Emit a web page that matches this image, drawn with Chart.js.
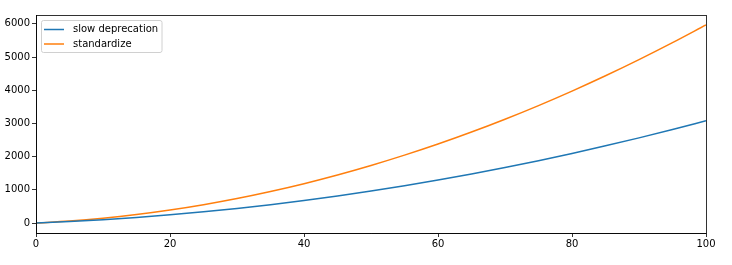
<!DOCTYPE html>
<html>
<head>
<meta charset="utf-8">
<script src="https://cdn.jsdelivr.net/npm/chart.js@4"></script>
<style>
html,body{margin:0;padding:0;background:#fff;}
#wrap{width:732px;height:265px;}
</style>
</head>
<body>
<div id="wrap"><canvas id="c" width="732" height="265"></canvas></div>
<script>
const xValues = [0,5,10,15,20,25,30,35,40,45,50,55,60,65,70,75,80,85,90,95,100];
const slowDeprecation = [0,45,101,169,247,338,440,554,680,817,965,1124,1295,1478,1673,1879,2097,2325,2565,2817,3081];
const standardize = [0,61,147,258,394,555,740,952,1187,1448,1734,2045,2380,2741,3127,3538,3974,4435,4921,5432,5967];
const seriesLabels = ['slow deprecation','standardize'];
const xTicks = [0,20,40,60,80,100];
const yTicks = [0,1000,2000,3000,4000,5000,6000];

const FONT = {family:'"DejaVu Sans", sans-serif', size:10};

const frame = {
  id:'frame',
  afterDraw(chart){
    const {ctx, chartArea:a} = chart;
    ctx.save();
    ctx.strokeStyle = '#000';
    ctx.lineWidth = 0.8;
    ctx.strokeRect(Math.round(a.left)+0.5, Math.round(a.top)+0.5, Math.round(a.right-a.left), Math.round(a.bottom-a.top));
    // legend
    const x0 = a.left + 5.5, y0 = a.top + 5.5, w = 120.5, h = 32;
    ctx.fillStyle = 'rgba(255,255,255,0.8)';
    ctx.strokeStyle = '#d0d0d0';
    ctx.lineWidth = 1;
    ctx.beginPath();
    ctx.roundRect(x0, y0, w, h, 2);
    ctx.fill();
    ctx.stroke();
    ctx.font = '10px "DejaVu Sans", sans-serif';
    ctx.textBaseline = 'middle';
    ctx.textAlign = 'left';
    chart.data.datasets.forEach((ds,i)=>{
      const yy = y0 + 9 + i*14.5;
      ctx.strokeStyle = ds.borderColor;
      ctx.lineWidth = 1.5;
      ctx.beginPath();
      ctx.moveTo(x0+2.5, yy);
      ctx.lineTo(x0+22.5, yy);
      ctx.stroke();
      ctx.fillStyle = '#000';
      ctx.fillText(ds.label, x0+31.5, yy);
    });
    ctx.restore();
  }
};

new Chart(document.getElementById('c'), {
  type:'line',
  data:{
    datasets:[
      {label:seriesLabels[0], data:xValues.map((x,i)=>({x, y:slowDeprecation[i]})), borderColor:'#1f77b4', borderWidth:1.5, pointRadius:0, cubicInterpolationMode:'monotone', fill:false},
      {label:seriesLabels[1], data:xValues.map((x,i)=>({x, y:standardize[i]})), borderColor:'#ff7f0e', borderWidth:1.5, pointRadius:0, cubicInterpolationMode:'monotone', fill:false}
    ]
  },
  options:{
    responsive:false,
    animation:false,
    events:[],
    layout:{padding:{top:15,right:26,left:0,bottom:0}},
    plugins:{legend:{display:false},tooltip:{enabled:false}},
    scales:{
      x:{
        type:'linear', min:0, max:100,
        afterBuildTicks:s=>{s.ticks = xTicks.map(v=>({value:v}));},
        afterFit:s=>{s.height = 32;},
        ticks:{font:FONT, color:'#000', padding:1, maxRotation:0, autoSkip:false, callback:v=>String(v)},
        grid:{display:true, drawOnChartArea:false, drawTicks:true, tickLength:4, color:'#000', lineWidth:0.8},
        border:{display:true, color:'#000', width:0.8}
      },
      y:{
        type:'linear', min:-299, max:6265,
        afterBuildTicks:s=>{s.ticks = yTicks.map(v=>({value:v}));},
        afterFit:s=>{s.width = 36;},
        ticks:{font:FONT, color:'#000', padding:2, autoSkip:false, callback:v=>String(v)},
        grid:{display:true, drawOnChartArea:false, drawTicks:true, tickLength:4, color:'#000', lineWidth:0.8},
        border:{display:true, color:'#000', width:0.8}
      }
    }
  },
  plugins:[frame]
});
</script>
</body>
</html>
